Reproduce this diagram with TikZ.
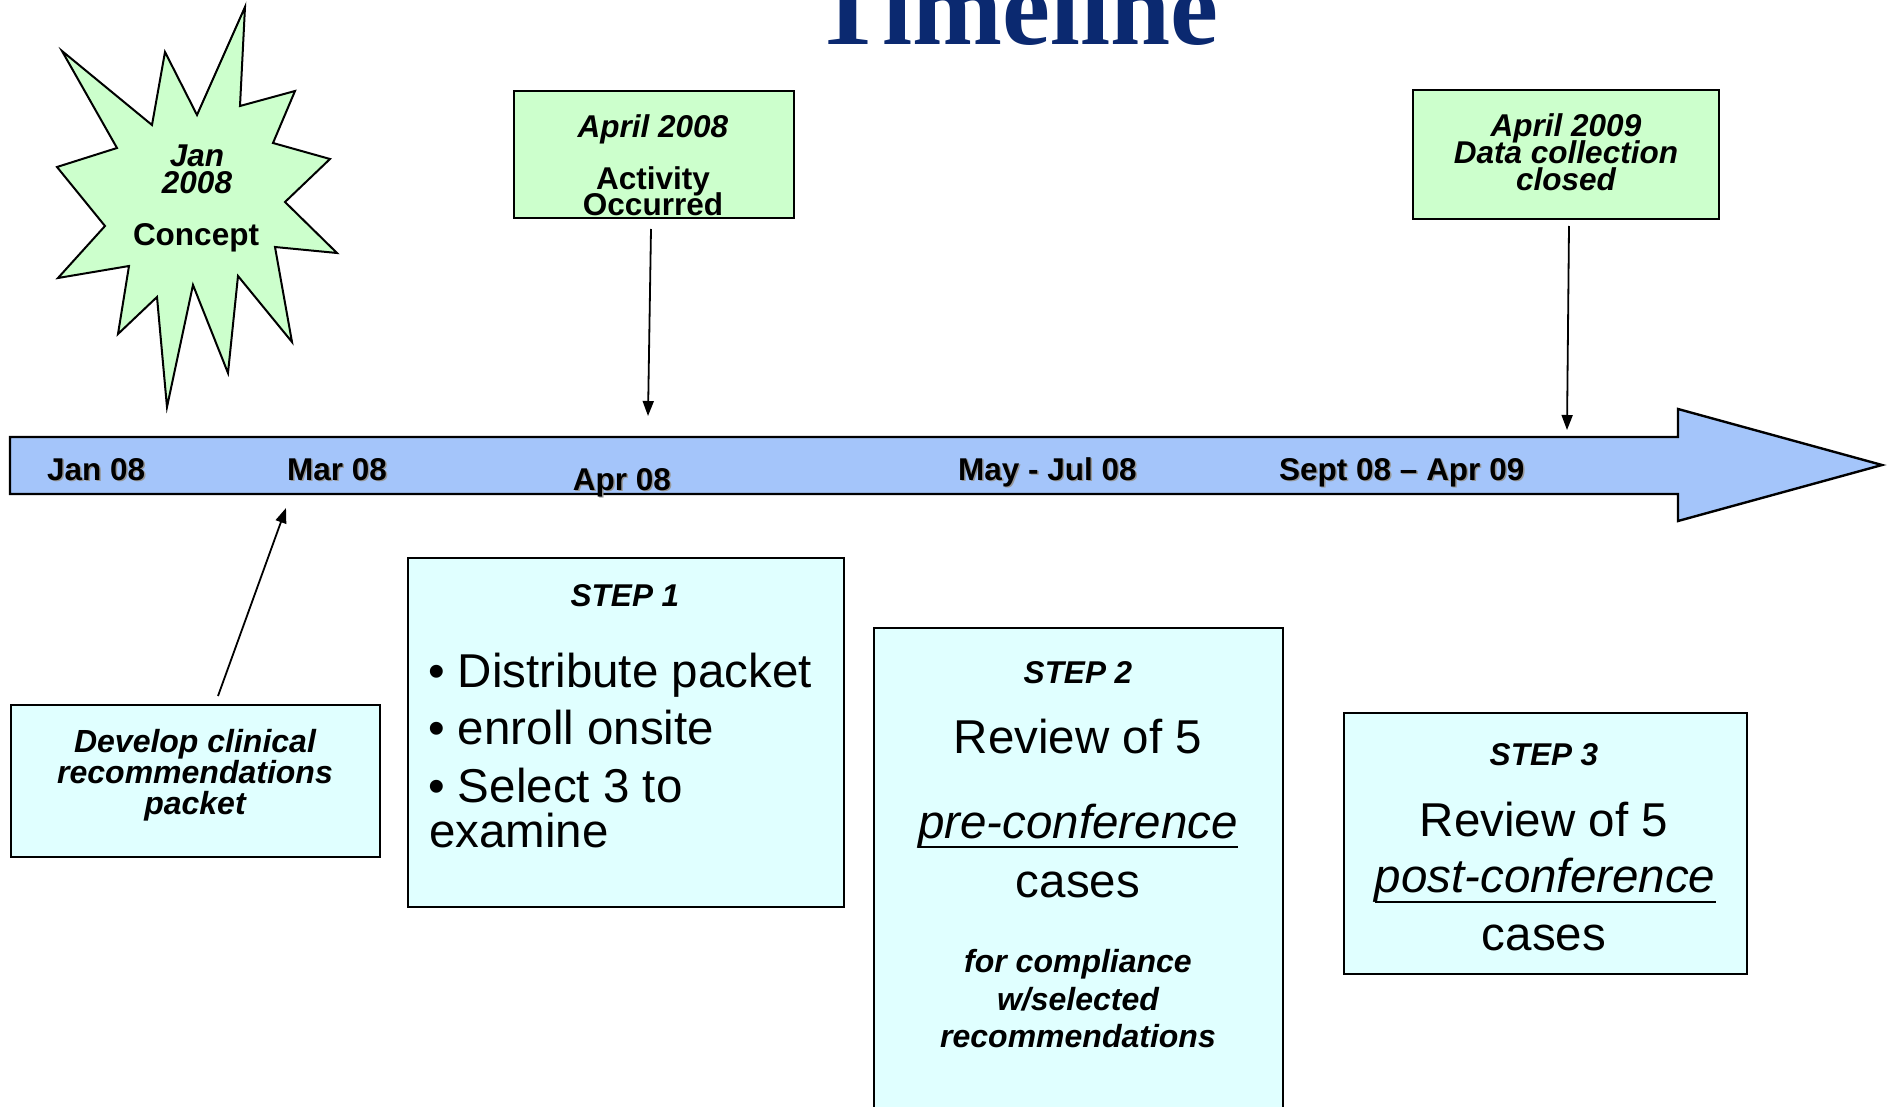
\documentclass[tikz,border=0pt]{standalone}
\usepackage{fontspec}
\setmainfont{Liberation Sans}
\newfontfamily\titlefont{Liberation Serif}
\usetikzlibrary{arrows.meta}

\definecolor{titleblue}{RGB}{11,41,112}
\definecolor{mint}{RGB}{204,255,204}
\definecolor{icecyan}{RGB}{224,255,255}
\definecolor{barblue}{RGB}{164,197,250}
\definecolor{shade}{RGB}{150,150,150}

% text with a soft grey drop shadow, used on the time bar
\newcommand\shd[1]{\makebox[0pt][l]{\kern1.5pt\raisebox{-1.5pt}{\textcolor{shade}{#1}}}#1}

\tikzset{
  txt/.style={inner sep=0pt, anchor=base, text=black},
  lab/.style={txt, font=\fontsize{31.5}{36}\selectfont\bfseries},
  labi/.style={txt, font=\fontsize{31.5}{36}\selectfont\bfseries\itshape},
  stepi/.style={txt, font=\fontsize{31.5}{36}\selectfont\bfseries\itshape},
  smalli/.style={txt, font=\fontsize{32}{36}\selectfont\bfseries\itshape},
  big/.style={txt, font=\fontsize{47.5}{54}\selectfont},
  bigi/.style={txt, font=\fontsize{47.5}{54}\selectfont\itshape},
  box/.style={draw=black, line width=2pt, inner sep=0pt, anchor=north west},
  arr/.style={-{Triangle[length=15pt,width=11pt]}, line width=1.8pt},
  uline/.style={line width=2.8pt},
}

\begin{document}
\begin{tikzpicture}[x=1pt,y=-1pt]
\useasboundingbox (0,0) rectangle (1888,1107);
\clip (0,0) rectangle (1888,1107);
\fill[white] (0,0) rectangle (1888,1107);

% title
\node[txt, font=\titlefont\fontsize{108}{116}\selectfont\bfseries, text=titleblue] (title) at (1015,45) {Timeline};

% starburst
\draw[fill=mint, line width=2pt, line join=miter]
  (245,7) -- (240,106) -- (295,91) -- (273,143) -- (330,159) -- (285,202)
  -- (337,253) -- (275,247) -- (292,342) -- (238,276) -- (228,373)
  -- (193,285) -- (167,407) -- (157,297) -- (118,334) -- (129,266)
  -- (58,278) -- (105,226) -- (57,167) -- (117,148) -- (62,51)
  -- (152,125) -- (165,52) -- (197,115) -- cycle;
\node[labi] (janw) at (197,166.5) {Jan};
\node[labi] (jany) at (197,193.5) {2008};
\node[lab] (concept) at (196,245.5) {Concept};

% time bar
\draw[fill=barblue, line width=2.4pt, line join=miter]
  (10,437) -- (1678,437) -- (1678,409) -- (1882,465) -- (1678,521)
  -- (1678,494) -- (10,494) -- cycle;
\node[lab, anchor=base west] (tjan) at (47,480) {\shd{Jan 08}};
\node[lab, anchor=base west] (tmar) at (287,480) {\shd{Mar 08}};
\node[lab] (tapr) at (622,490) {\shd{Apr 08}};
\node[lab, anchor=base west] (tmay) at (958,480) {\shd{May - Jul 08}};
\node[lab, anchor=base west] (tsep) at (1279,480) {\shd{Sept 08 – Apr 09}};

% milestone boxes above the bar
\node[box, fill=mint, minimum width=280pt, minimum height=127pt] (act) at (513,90) {};
\node[labi] (act1) at (653,138) {April 2008};
\node[lab] (act2) at (653,189.5) {Activity};
\node[lab] (act3) at (653,215.5) {Occurred};

\node[box, fill=mint, minimum width=306pt, minimum height=129pt] (clo) at (1412,89) {};
\node[labi] (clo1) at (1566,137) {April 2009};
\node[labi] (clo2) at (1566,164) {Data collection};
\node[labi] (clo3) at (1566,191) {closed};

\coordinate (acts) at (651,229);
\coordinate (actt) at (648,416);
\draw[arr] (acts) -- (actt);
\coordinate (clos) at (1569,226);
\coordinate (clot) at (1567,430);
\draw[arr] (clos) -- (clot);

% packet box
\node[box, fill=icecyan, minimum width=369pt, minimum height=152pt] (dev) at (10,704) {};
\node[smalli] (dev1) at (195,752) {Develop clinical};
\node[smalli] (dev2) at (195,783) {recommendations};
\node[smalli] (dev3) at (195,814) {packet};
\coordinate (devs) at (218,696);
\coordinate (devt) at (286,508);
\draw[arr] (devs) -- (devt);

% step 1
\node[box, fill=icecyan, minimum width=436pt, minimum height=349pt] (s1) at (407,557) {};
\node[stepi] (s1h) at (625,606) {STEP 1};
\node[big, anchor=base west] (s1a) at (428,687) {• Distribute packet};
\node[big, anchor=base west] (s1b) at (428,744) {• enroll onsite};
\node[big, anchor=base west] (s1c) at (428,802) {• Select 3 to};
\node[big, anchor=base west] (s1d) at (429,847) {examine};

% step 2
\node[box, fill=icecyan, minimum width=409pt, minimum height=520pt] (s2) at (873,627) {};
\node[stepi] (s2h) at (1078,683) {STEP 2};
\node[big] (s2a) at (1078,753) {Review of 5};
\node[bigi] (s2b) at (1078,838) {pre-conference};
\draw[uline] ([yshift=-9pt]s2b.base west) -- ([yshift=-9pt]s2b.base east);
\node[big] (s2c) at (1078,897) {cases};
\node[smalli] (s2d) at (1078,972) {for compliance};
\node[smalli] (s2e) at (1078,1010) {w/selected};
\node[smalli] (s2f) at (1078,1047) {recommendations};

% step 3
\node[box, fill=icecyan, minimum width=403pt, minimum height=261pt] (s3) at (1343,712) {};
\node[stepi] (s3h) at (1544,765) {STEP 3};
\node[big] (s3a) at (1544,836) {Review of 5};
\node[bigi] (s3b) at (1545,892) {post-conference};
\draw[uline] ([yshift=-10pt]s3b.base west) -- ([yshift=-10pt]s3b.base east);
\node[big] (s3c) at (1544,950) {cases};
\end{tikzpicture}
\end{document}
